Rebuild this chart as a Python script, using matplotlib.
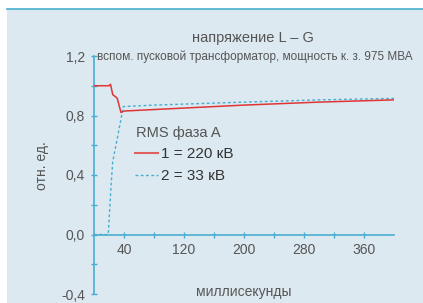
import numpy as np
import matplotlib
matplotlib.use("Agg")
import matplotlib.pyplot as plt
from matplotlib.patches import Rectangle
from matplotlib.lines import Line2D

# data (ms, per-unit)
t_220 = [0, 20, 22, 25, 29, 31, 36, 40, 80, 120, 200, 300, 400]
v_220 = [1.0, 1.0, 1.01, 0.94, 0.925, 0.915, 0.82, 0.83, 0.84, 0.85, 0.87, 0.89, 0.905]
t_33 = [0, 19, 23, 25, 35, 39, 80, 200, 300, 400]
v_33 = [0.0, 0.0, 0.35, 0.49, 0.75, 0.86, 0.87, 0.89, 0.905, 0.915]

xticks_major = [40, 120, 200, 280, 360]
yticks_major = [-0.4, 0.0, 0.4, 0.8, 1.2]

bg = '#dce9f0'
axcol = '#4aaed0'
txt = '#555555'
red = '#e03535'
blue = '#45aed0'
plt.rcParams['font.family'] = ['Liberation Sans', 'DejaVu Sans']

fig = plt.figure(figsize=(4.23, 3.03), dpi=100)
fig.patch.set_facecolor('white')
fig.patches.append(Rectangle((7/423, 0), 1, 294/303, transform=fig.transFigure,
                             facecolor=bg, edgecolor='none', zorder=-5))
fig.lines.append(Line2D([7/423, 1], [294/303, 294/303], transform=fig.transFigure,
                        color=axcol, lw=1.2, zorder=-4))

ax = fig.add_axes([94/423, 9/303, 300/423, 238/303])
ax.set_facecolor('none')
ax.set_xlim(0, 400)
ax.set_ylim(-0.4, 1.2)

ax.plot(t_220, v_220, color=red, lw=1.1, zorder=3)
ax.plot(t_33, v_33, color=blue, lw=1.0, ls=(0, (2, 1.8)), zorder=2)

for s in ['top', 'right']:
    ax.spines[s].set_visible(False)
ax.spines['left'].set_position(('data', 0))
ax.spines['bottom'].set_position(('data', 0))
for s in ['left', 'bottom']:
    ax.spines[s].set_color(axcol)
    ax.spines[s].set_linewidth(1.2)

ax.set_xticks(xticks_major)
ax.set_xticklabels([str(v) for v in xticks_major])
ax.set_xticks([80, 160, 240, 320], minor=True)
ax.set_yticks(yticks_major)
ax.set_yticklabels([('%.1f' % v).replace('.', ',') for v in yticks_major])
ax.set_yticks([-0.2, 0.2, 0.6, 1.0], minor=True)
ax.tick_params(which='both', direction='inout', length=5, width=1, color=axcol,
               labelcolor=txt, labelsize=10)
ax.tick_params(axis='x', pad=3.5)
ax.tick_params(axis='y', pad=4)

fig.text(253/423, 1 - 38/303, 'напряжение L – G', ha='center', va='center',
         fontsize=10.5, color=txt)
fig.text(97/423, 1 - 57/303, 'вспом. пусковой трансформатор, мощность к. з. 975 МВА',
         ha='left', va='center', fontsize=8.5, color=txt)
fig.text(42/423, 1 - 166/303, 'отн. ед.', rotation=90, ha='center', va='center',
         fontsize=10, color=txt)
fig.text(244/423, 1 - 292/303, 'миллисекунды', ha='center', va='center',
         fontsize=10, color=txt)

# legend
fig.text(136/423, 1 - 133/303, 'RMS фаза A', ha='left', va='center', fontsize=10.5, color=txt)
fig.lines.append(Line2D([135/423, 158/423], [1 - 153/303] * 2, transform=fig.transFigure,
                        color='#e06060', lw=1.5))
fig.text(161/423, 1 - 154/303, '1 = 220 кВ', ha='left', va='center', fontsize=11, color='#333333')
fig.lines.append(Line2D([135/423, 158/423], [1 - 175/303] * 2, transform=fig.transFigure,
                        color=blue, lw=1.0, ls=(0, (2, 1.8))))
fig.text(161/423, 1 - 176/303, '2 = 33 кВ', ha='left', va='center', fontsize=11, color='#333333')

fig.savefig('out.png', dpi=100, facecolor=fig.get_facecolor())
